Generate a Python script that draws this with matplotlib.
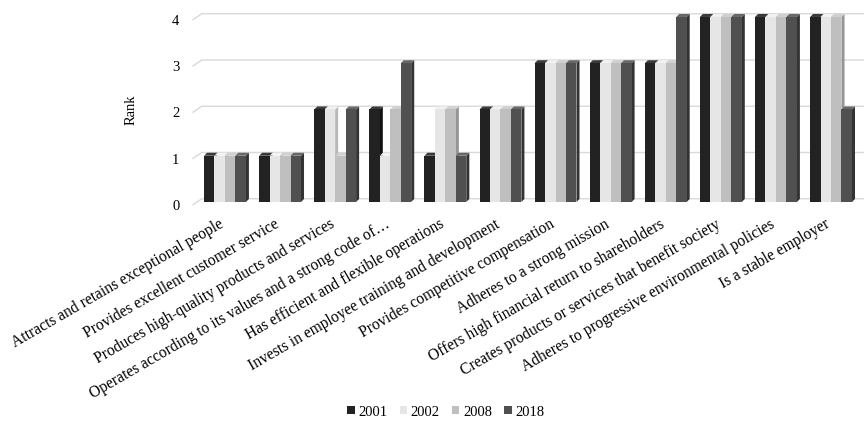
import numpy as np
import matplotlib
matplotlib.use("Agg")
import matplotlib.pyplot as plt
import matplotlib.transforms as mtransforms
from matplotlib.patches import Polygon, Patch

plt.rcParams['font.family'] = ['Liberation Serif', 'DejaVu Serif']

# -----------------------------------------------------------------------
# Data
# -----------------------------------------------------------------------
categories = [
    "Attracts and retains exceptional people",
    "Provides excellent customer service",
    "Produces high-quality products and services",
    "Operates according to its values and a strong code of…",
    "Has efficient and flexible operations",
    "Invests in employee training and development",
    "Provides competitive compensation",
    "Adheres to a strong mission",
    "Offers high financial return to shareholders",
    "Creates products or services that benefit society",
    "Adheres to progressive environmental policies",
    "Is a stable employer",
]
years = ["2001", "2002", "2008", "2018"]
rank_2001 = [1, 1, 2, 2, 1, 2, 3, 3, 3, 4, 4, 4]
rank_2002 = [1, 1, 2, 1, 2, 2, 3, 3, 3, 4, 4, 4]
rank_2008 = [1, 1, 1, 2, 2, 2, 3, 3, 3, 4, 4, 4]
rank_2018 = [1, 1, 2, 3, 1, 2, 3, 3, 4, 4, 4, 2]
y_ticks = [0, 1, 2, 3, 4]

series = [rank_2001, rank_2002, rank_2008, rank_2018]
front_colors = ["#222222", "#e6e6e6", "#bfbfbf", "#505050"]
side_colors = ["#111111", "#b8b8b8", "#959595", "#333333"]
top_colors = ["#3a3a3a", "#f2f2f2", "#d0d0d0", "#686868"]

# -----------------------------------------------------------------------
# Figure
# -----------------------------------------------------------------------
fig = plt.figure(figsize=(8.64, 4.30), dpi=100)
ax = fig.add_axes([0.2221, 0.5195, 0.778, 0.4733])

x = np.arange(len(categories))
width = 0.19
dx, dy = 0.055, 0.065          # bar depth (data units)
x_left, x_right = -0.6, 11.6
floor_front, floor_back = -0.06, 0.07   # gridline front/back offsets
wall_x = -0.42

# gridlines on back wall with slanted floor edge on the left
for v in y_ticks:
    ax.plot([x_left + 0.02, wall_x, x_right],
            [v + floor_front, v + floor_back, v + floor_back],
            color="#d9d9d9", lw=1.0, zorder=0)

for k, vals in enumerate(series):
    xs = x + (k - 1.5) * width
    ax.bar(xs, vals, width, color=front_colors[k], edgecolor="none",
           zorder=3 + 2 * k)
    for xi, h in zip(xs, vals):
        x0, x1 = xi - width / 2, xi + width / 2
        side = Polygon([(x1, 0), (x1, h), (x1 + dx, h + dy), (x1 + dx, dy)],
                       closed=True, facecolor=side_colors[k], edgecolor="none",
                       zorder=2 + 2 * k)
        top = Polygon([(x0, h), (x1, h), (x1 + dx, h + dy), (x0 + dx, h + dy)],
                      closed=True, facecolor=top_colors[k], edgecolor="none",
                      zorder=2 + 2 * k)
        ax.add_patch(side)
        ax.add_patch(top)

ax.set_xlim(x_left, x_right)
ax.set_ylim(-0.1, 4.3)
ax.set_yticks([v + floor_front for v in y_ticks])
ax.set_yticklabels([str(v) for v in y_ticks])
ax.set_xticks(x)
ax.tick_params(axis="both", length=0)
ax.tick_params(axis="x", pad=7)
ax.tick_params(axis="y", pad=9, labelsize=10.5)
ax.set_xticklabels(categories, rotation=30, ha="right", va="top",
                   rotation_mode="anchor", fontsize=11.2)
# nudge category labels a little to the left
shift = mtransforms.ScaledTranslation(-0.06, 0, fig.dpi_scale_trans)
for lbl in ax.get_xticklabels():
    lbl.set_transform(lbl.get_transform() + shift)
for s in ax.spines.values():
    s.set_visible(False)

fig.text(131 / 864, 1 - 110 / 430, "Rank", rotation=90, ha="center",
         va="center", fontsize=10.5)

handles = [Patch(facecolor=c, edgecolor="none") for c in front_colors]
fig.legend(handles, years, loc="center", bbox_to_anchor=(0.516, 1 - 412 / 430),
           ncol=4, frameon=False, fontsize=10.5, handlelength=0.5,
           handleheight=0.5, handletextpad=0.25, columnspacing=0.85)

fig.savefig("out.png", dpi=100)
